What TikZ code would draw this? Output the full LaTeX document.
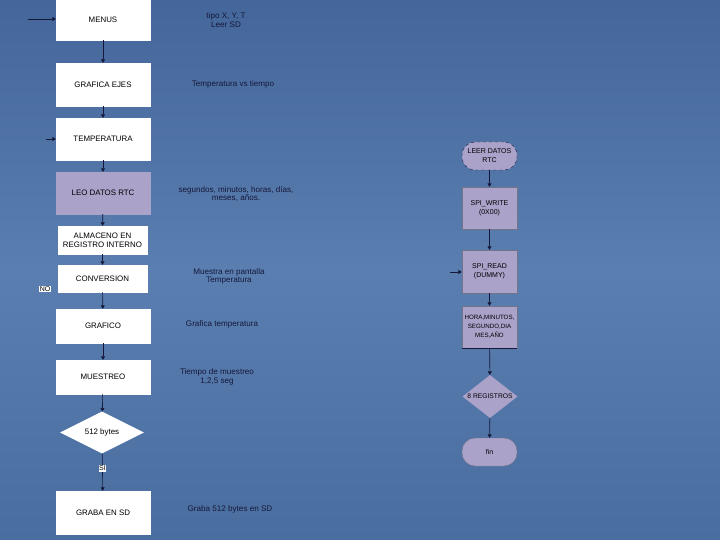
\documentclass[tikz,border=0pt]{standalone}
\usepackage{fontspec}
\setmainfont{Liberation Sans}
\usetikzlibrary{shapes.geometric,arrows.meta}
\definecolor{bgtop}{HTML}{44669A}
\definecolor{bgmid}{HTML}{5A7EB0}
\definecolor{bgbot}{HTML}{4A6DA0}
\definecolor{lav}{HTML}{ABA2CA}
\definecolor{ink}{HTML}{15183A}
\tikzset{
  box/.style={draw=white,fill=white,minimum width=94pt,inner sep=1pt,align=center,font=\fontsize{7.9}{9}\selectfont,text=black},
  pbox/.style={draw=ink!60,fill=lav,minimum width=55pt,minimum height=42pt,inner sep=1pt,align=center,font=\fontsize{7}{9}\selectfont,text=black},
  term/.style={pbox,minimum height=28pt,rounded corners=13pt},
  dia/.style={diamond,aspect=2,inner sep=0pt,align=center,font=\fontsize{7}{9}\selectfont,text=black},
  note/.style={align=center,font=\fontsize{8.1}{8.8}\selectfont,text=ink,inner sep=0pt},
  tag/.style={fill=white,inner sep=0.6pt,font=\fontsize{7}{7}\selectfont,text=black},
  conn/.style={draw=ink,line width=0.6pt,-{Triangle[length=3.5pt,width=4pt]}}
}
\begin{document}
\begin{tikzpicture}[x=1pt,y=-1pt]
\useasboundingbox (0,0) rectangle (720,540);
\shade[top color=bgtop,bottom color=bgbot,middle color=bgmid] (0,0) rectangle (720,540);
% left column
\node[box,minimum height=40pt] (menus) at (103,20) {MENUS};
\node[box,minimum height=43pt] (ejes) at (103,84.5) {GRAFICA EJES};
\node[box,minimum height=42pt] (temp) at (103,139) {TEMPERATURA};
\node[box,fill=lav,draw=lav,minimum height=42pt] (leo) at (103,193) {LEO DATOS RTC};
\node[box,minimum width=89pt,minimum height=28pt] (alm) at (102.5,240) {ALMACENO EN\\REGISTRO INTERNO};
\node[box,minimum width=89pt,minimum height=27pt] (conv) at (102.5,278.5) {CONVERSION};
\node[box,minimum height=34pt] (graf) at (103,326) {GRAFICO};
\node[box,minimum height=34pt] (mues) at (103,377) {MUESTREO};
\node[dia,fill=white,minimum width=84pt,minimum height=42pt,font=\fontsize{7.9}{9}\selectfont] (d512) at (102,432.5) {512 bytes};
\node[box,minimum height=43pt] (graba) at (103,512.5) {GRABA EN SD};
\coordinate (in1) at (28,19);
\coordinate (in2) at (46,139);
\draw[conn] (in1) -- (menus.west |- in1);
\draw[conn] (in2) -- (temp.west |- in2);
\draw[conn] (menus) -- (ejes);
\draw[conn] (ejes) -- (temp);
\draw[conn] (temp) -- (leo);
\draw[conn] (leo) -- (alm);
\draw[conn] (alm) -- (conv);
\draw[conn] (conv) -- (graf);
\draw[conn] (graf) -- (mues);
\draw[conn] (mues) -- (d512);
\draw[conn] (d512) -- node[tag,pos=0.4] {SI} (graba);
\node[tag] (no) at (45,289) {NO};
% notes
\node[note] (n1) at (226,20) {tipo X, Y, T\\Leer SD};
\node[note] (n2) at (233,84) {Temperatura vs tiempo};
\node[note] (n3) at (236,194) {segundos, minutos, horas, días,\\meses, años.};
\node[note] (n4) at (229,276.5) {Muestra en pantalla\\Temperatura};
\node[note] (n5) at (222,324) {Grafica temperatura};
\node[note] (n6) at (217,377) {Tiempo de muestreo\\1,2,5 seg};
\node[note] (n7) at (230,509) {Graba 512 bytes en SD};
% right column
\node[term,dashed,draw=ink] (leer) at (489.5,156) {LEER DATOS\\RTC};
\node[pbox] (spiw) at (489.5,208) {SPI\_WRITE\\(0X00)};
\node[pbox,minimum height=43pt] (spir) at (489.5,271.5) {SPI\_READ\\(DUMMY)};
\node[pbox,font=\fontsize{6.2}{9}\selectfont] (hora) at (489.5,327) {HORA,MINUTOS,\\SEGUNDO,DIA\\MES,AÑO};
\draw[ink,line width=0.8pt] (hora.south west) -- (hora.south east);
\node[dia,fill=lav,minimum width=55pt,minimum height=43pt,font=\fontsize{6.7}{9}\selectfont] (d8) at (490,396.5) {8 REGISTROS};
\node[term] (fin) at (489.5,452) {fin};
\coordinate (in3) at (450,272);
\draw[conn] (in3) -- (spir.west |- in3);
\draw[conn] (leer) -- (spiw);
\draw[conn] (spiw) -- (spir);
\draw[conn] (spir) -- (hora);
\draw[conn] (hora) -- (d8);
\draw[conn] (d8) -- (fin);
\end{tikzpicture}
\end{document}
